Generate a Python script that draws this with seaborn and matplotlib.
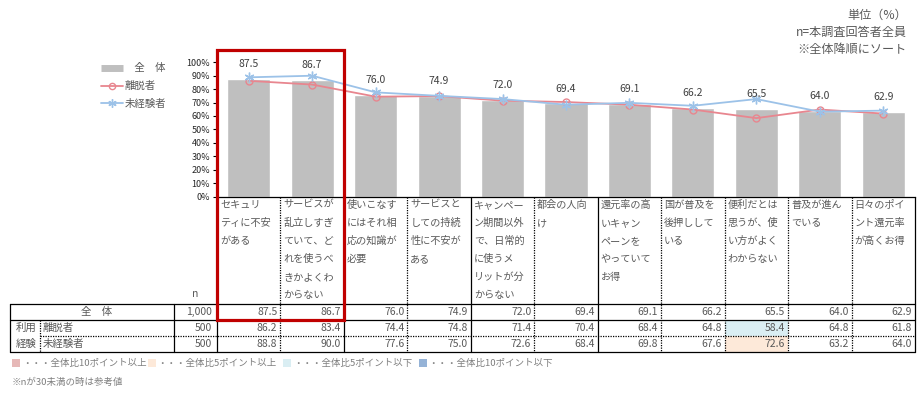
import numpy as np
import pandas as pd
import matplotlib
matplotlib.use('Agg')
import matplotlib.pyplot as plt
import seaborn as sns
from matplotlib.lines import Line2D
from matplotlib.patches import Rectangle

# chart data
categories = [
    'セキュリ\nティに不安\nがある',
    'サービスが\n乱立しすぎ\nていて、ど\nれを使うべ\nきかよくわ\nからない',
    '使いこなす\nにはそれ相\n応の知識が\n必要',
    'サービスと\nしての持続\n性に不安が\nある',
    'キャンペー\nン期間以外\nで、日常的\nに使うメ\nリットが分\nからない',
    '都会の人向\nけ',
    '還元率の高\nいキャン\nペーンを\nやっていて\nお得',
    '国が普及を\n後押しして\nいる',
    '便利だとは\n思うが、使\nい方がよく\nわからない',
    '普及が進ん\nでいる',
    '日々のポイ\nント還元率\nが高くお得',
]
total = [87.5, 86.7, 76.0, 74.9, 72.0, 69.4, 69.1, 66.2, 65.5, 64.0, 62.9]
churned = [86.2, 83.4, 74.4, 74.8, 71.4, 70.4, 68.4, 64.8, 58.4, 64.8, 61.8]
never_used = [88.8, 90.0, 77.6, 75.0, 72.6, 68.4, 69.8, 67.6, 72.6, 63.2, 64.0]
row_labels = ['全　体', '離脱者', '未経験者']
row_n = ['1,000', '500', '500']
# cell highlights: (row, column) -> colour key
highlights = {(1, 8): 'low5', (2, 8): 'high5'}

GRAY = '#BFBFBF'
PINK = '#E8868F'
BLUE = '#9CC2E8'
TXT = '#595959'
RED = '#C00000'
hl_colors = {'high10': '#E6B8B7', 'high5': '#FDE9D9', 'low5': '#DAEEF3', 'low10': '#95B3D7'}

sns.set_theme(style='white')
plt.rcParams['font.family'] = ['Noto Sans CJK JP', 'DejaVu Sans']

W, H = 921, 395
fig = plt.figure(figsize=(W / 100, H / 100), dpi=100)

x0, x1 = 217, 915
y_zero, y_top = 196.5, 62.3
colw = (x1 - x0) / len(categories)
ax = fig.add_axes([x0 / W, 1 - y_zero / H, (x1 - x0) / W, (y_zero - y_top) / H])

df = pd.DataFrame({'idx': np.arange(len(categories)), 'total': total,
                   'churned': churned, 'never': never_used})

sns.barplot(data=df, x='idx', y='total', color=GRAY, width=0.68, ax=ax,
            saturation=1, native_scale=True)
sns.lineplot(data=df, x='idx', y='churned', color=PINK, lw=1.3, marker='o',
             markersize=5, markerfacecolor='none', markeredgecolor=PINK,
             markeredgewidth=1, ax=ax)
sns.lineplot(data=df, x='idx', y='never', color=BLUE, lw=1.3, marker=(6, 2, 0),
             markersize=7, markeredgecolor=BLUE, markeredgewidth=1, ax=ax)

for i, v in enumerate(total):
    ax.annotate(f'{v:.1f}', (i, v), xytext=(0, 7), textcoords='offset points',
                ha='center', va='bottom', fontsize=7.5, color='#404040')

ax.set_xlim(-0.5, len(categories) - 0.5)
ax.set_ylim(0, 100)
ax.set_yticks(range(0, 101, 10))
ax.set_yticklabels([f'{t}%' for t in range(0, 101, 10)], fontsize=6.5, color='#262626')
ax.tick_params(axis='y', length=3, width=0.8, color='black', pad=2, left=True)
ax.set_xticks([])
ax.set_xlabel('')
ax.set_ylabel('')
for s in ['top', 'right']:
    ax.spines[s].set_visible(False)
for s in ['left', 'bottom']:
    ax.spines[s].set_color('black')
    ax.spines[s].set_linewidth(0.9)

# legend
handles = [Line2D([], [], color=GRAY, lw=5, solid_capstyle='butt'),
           Line2D([], [], color=PINK, lw=1.3, marker='o', markersize=4.5,
                  markerfacecolor='none'),
           Line2D([], [], color=BLUE, lw=1.3, marker=(6, 2, 0), markersize=6)]
fig.legend(handles, ['　全　体', '離脱者', '未経験者'], loc='upper left',
           bbox_to_anchor=(92 / W, 1 - 54 / H), frameon=False, fontsize=7.5,
           handlelength=2.1, handletextpad=0.1, labelspacing=0.75, labelcolor=TXT)

# overlay for table and notes, in pixel coordinates
ov = fig.add_axes([0, 0, 1, 1], zorder=5)
ov.set_xlim(0, W)
ov.set_ylim(H, 0)
ov.axis('off')
ov.patch.set_alpha(0)

def cx(i):
    return x0 + i * colw

row_y = [312, 328, 344]
t_top, t_r1, t_r2, t_bot = 304, 320, 336, 352

# highlighted cells
for (r, c), key in highlights.items():
    ov.add_patch(Rectangle((cx(c), [t_top, t_r1, t_r2][r]), colw, 16,
                           color=hl_colors[key], lw=0, zorder=1))

# category labels
for i, lab in enumerate(categories):
    for j, line in enumerate(lab.split('\n')):
        ov.text(cx(i) + 3, 205 + 18 * j, line, fontsize=7.3, color=TXT,
                ha='left', va='center')

# vertical lines
solid_cols = {0, 2, 4, 6, 11}
for i in range(len(categories) + 1):
    if i in solid_cols:
        ov.plot([cx(i), cx(i)], [y_zero, t_bot], color='black', lw=0.9, zorder=3)
    else:
        ov.plot([cx(i), cx(i)], [y_zero, t_bot], color='black', lw=0.9, ls=(0, (1, 1)), zorder=3)
ov.plot([10, 10], [t_top, t_bot], color='black', lw=0.9)
ov.plot([174, 174], [t_top, t_bot], color='black', lw=0.9)
ov.plot([40, 40], [t_r1, t_bot], color='black', lw=0.9, ls=(0, (1, 1)))

# horizontal lines
for yy in [t_top, t_r1, t_bot]:
    ov.plot([10, x1], [yy, yy], color='black', lw=0.9)
ov.plot([40, x1], [t_r2, t_r2], color='black', lw=0.9, ls=(0, (1, 1)))

# table text
ov.text(195, 294, 'n', fontsize=7.5, color=TXT, ha='center', va='center')
ov.text(97, row_y[0], row_labels[0], fontsize=7.5, color=TXT, ha='center', va='center')
ov.text(26, row_y[1], '利用', fontsize=7.5, color=TXT, ha='center', va='center')
ov.text(26, row_y[2], '経験', fontsize=7.5, color=TXT, ha='center', va='center')
for r in (1, 2):
    ov.text(43, row_y[r], row_labels[r], fontsize=7.5, color=TXT, ha='left', va='center')
for r, nn in enumerate(row_n):
    ov.text(212, row_y[r], nn, fontsize=7.5, color=TXT, ha='right', va='center')
for r, vals in enumerate([total, churned, never_used]):
    for i, v in enumerate(vals):
        ov.text(cx(i + 1) - 3, row_y[r], f'{v:.1f}', fontsize=7.5, color=TXT,
                ha='right', va='center')

# red highlight box
ov.add_patch(Rectangle((cx(0), 50), 2 * colw, 269.5, fill=False, ec=RED, lw=2.3, zorder=6))

# notes, top right
for k, s in enumerate(['単位（%）', 'n=本調査回答者全員', '※全体降順にソート']):
    ov.text(907, 15 + 17.5 * k, s, fontsize=8.7, color=TXT, ha='right', va='center')

# colour key under the table
key_items = [('high10', '・・・全体比10ポイント以上'), ('high5', '・・・全体比5ポイント以上'),
             ('low5', '・・・全体比5ポイント以下'), ('low10', '・・・全体比10ポイント以下')]
for k, (key, s) in enumerate(key_items):
    xk = 12 + 135.5 * k
    ov.add_patch(Rectangle((xk, 359), 8, 8, color=hl_colors[key], lw=0))
    ov.text(xk + 10, 363, s, fontsize=6.8, color='#7F7F7F', ha='left', va='center')
ov.text(12, 382, '※nが30未満の時は参考値', fontsize=6.8, color='#7F7F7F', ha='left', va='center')

fig.savefig('out.png', dpi=100)
